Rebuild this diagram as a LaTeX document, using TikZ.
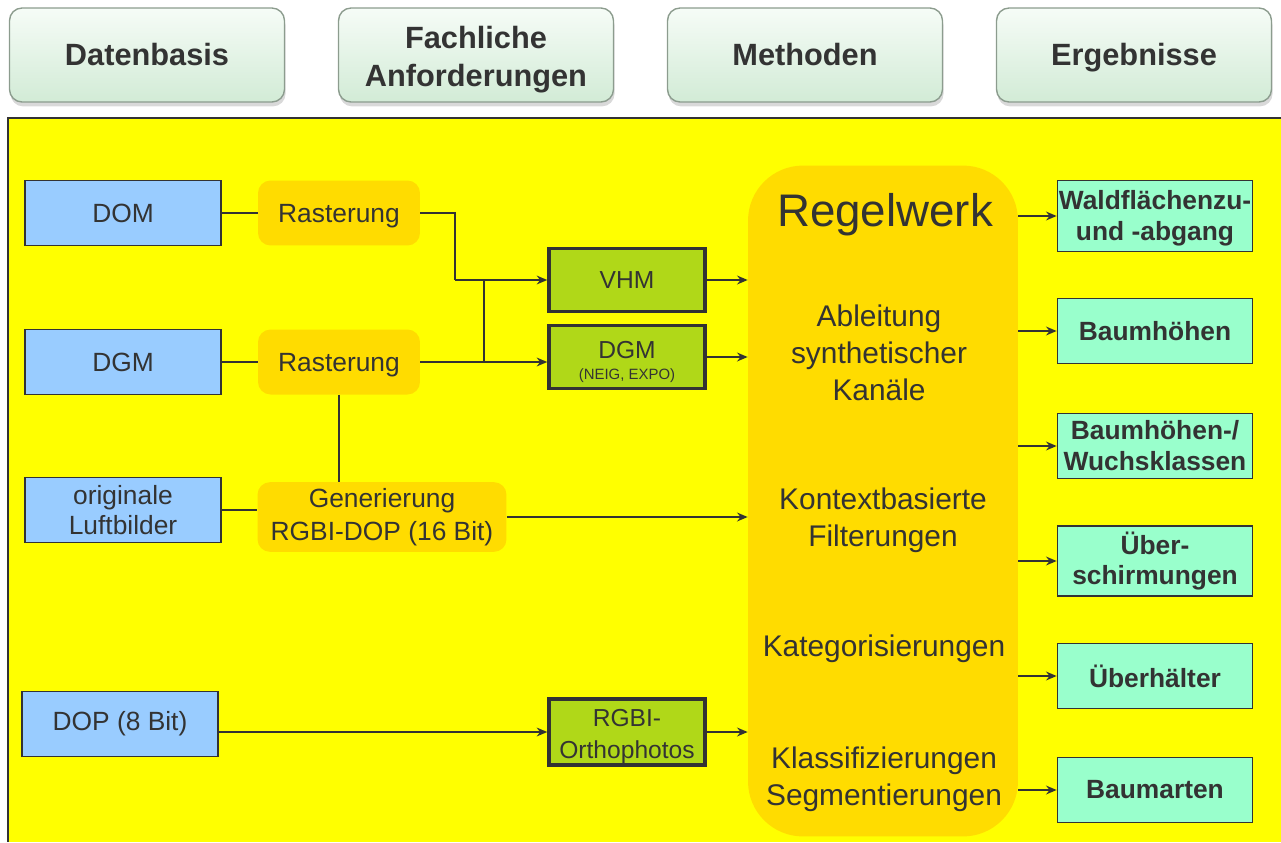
\documentclass[tikz,border=0pt]{standalone}
\usepackage{fontspec}
\setmainfont{Liberation Sans}
\usepackage{tikz}
\usepackage{xcolor}
\usetikzlibrary{
    arrows.meta,
    shadows,
    calc,
    positioning
}
\definecolor{hellgelb}{HTML}{FFFF00}
\definecolor{gold}{HTML}{FFDC00}
\definecolor{hellblau}{HTML}{99CCFF}
\definecolor{laubgruen}{HTML}{B0D818}
\definecolor{mint}{HTML}{99FFCC}
\definecolor{dunkel}{HTML}{333333}
\definecolor{kopfoben}{HTML}{F6FCF7}
\definecolor{kopfunten}{HTML}{D2EBD6}
\definecolor{kopfrand}{HTML}{8C9C8E}

\begin{document}
\begin{tikzpicture}[
        x=0.02cm, y=-0.02cm,
        every node/.style={text=dunkel, align=center},
        kopf/.style={draw=kopfrand, line width=0.8pt, rounded corners=0.25cm,
            top color=kopfoben, bottom color=kopfunten,
            minimum width=5.5cm, minimum height=1.88cm,
            font=\bfseries\fontsize{17.5}{21.5}\selectfont,
            drop shadow={shadow xshift=0.6pt, shadow yshift=-2.5pt, opacity=0.3}},
        einzeilig/.style={text height=12.5pt, text depth=0pt},
        quelle/.style={draw=dunkel, line width=1pt, fill=hellblau,
            minimum width=3.92cm, minimum height=1.3cm,
            font=\fontsize{15}{17}\selectfont},
        prozess/.style={fill=gold, rounded corners=0.25cm,
            minimum height=1.3cm, font=\fontsize{15}{19}\selectfont},
        kanal/.style={draw=dunkel, line width=2pt, fill=laubgruen,
            minimum width=3.12cm, minimum height=1.26cm, inner sep=1pt,
            font=\fontsize{14}{18}\selectfont},
        ergebnis/.style={draw=dunkel, line width=1pt, fill=mint,
            minimum width=3.9cm, minimum height=1.3cm, inner xsep=0pt,
            font=\bfseries\fontsize{15}{17.6}\selectfont},
        regeltext/.style={font=\fontsize{17}{21}\selectfont},
        linie/.style={draw=dunkel, line width=1pt},
        pfeil/.style={linie, -{Stealth[length=6pt, width=5pt]}}
    ]
    \useasboundingbox (0,0) rectangle (1281,842);

    \node[kopf, einzeilig] (datenbasis) at (147,55) {Datenbasis};
    \node[kopf] (fachlich) at (476,55) {\rule{0pt}{17.5pt}Fachliche\\Anforderungen};
    \node[kopf, einzeilig] (methoden) at (805,55) {Methoden};
    \node[kopf, einzeilig] (ergebnisse) at (1134,55) {Ergebnisse};

    \fill[hellgelb] (8,118) rectangle (1281,842);
    \draw[dunkel, line width=1pt] (8,842) -- (8,118) -- (1281,118);

    \node[quelle] (dom) at (123,213) {DOM};
    \node[quelle] (dgm) at (123,362) {DGM};
    \node[quelle] (luftbild) at (123,510) {originale\\Luftbilder};
    \node[quelle] (dop) at (120,724) {DOP (8 Bit)};

    \node[prozess, minimum width=3.24cm, text height=10.7pt, text depth=0pt] (raster1) at (339,213) {Rasterung};
    \node[prozess, minimum width=3.24cm, text height=10.7pt, text depth=0pt] (raster2) at (339,362) {Rasterung};
    \node[prozess, minimum width=4.98cm] (generierung) at (382,517) {Generierung\\RGBI-DOP (16 Bit)};

    \node[kanal] (vhm) at (627,280) {VHM};
    \node[kanal] (dgmkanal) at (627,357) {\rule{0pt}{15pt}DGM\\[-6pt]{\fontsize{8.5}{10}\selectfont(NEIG, EXPO)}};
    \node[kanal] (rgbi) at (627,732) {\rule{0pt}{14.6pt}RGBI-\\Orthophotos};

    \node[fill=gold, rounded corners=1.1cm, minimum width=5.4cm, minimum height=13.42cm] (regel) at (883,501) {};
    \node[font=\fontsize{26}{30}\selectfont] (regeltitel) at (885,215) {Regelwerk};
    \node[regeltext] (ableitung) at (879,353) {Ableitung\\synthetischer\\Kanäle};
    \node[regeltext] (kontext) at (883,520) {Kontextbasierte\\Filterungen};
    \node[regeltext] (kategorie) at (884,649) {Kategorisierungen};
    \node[regeltext] (klasse) at (884,779) {Klassifizierungen\\Segmentierungen};

    \node[ergebnis] (wald) at (1155,216) {\rule{0pt}{13pt}Waldflächenzu-\\und -abgang};
    \node[ergebnis] (hoehe) at (1155,331) {Baumhöhen};
    \node[ergebnis] (wuchs) at (1155,446) {Baumhöhen-/\\Wuchsklassen};
    \node[ergebnis] (schirm) at (1155,561) {Über-\\schirmungen};
    \node[ergebnis] (halter) at (1155,676) {Überhälter};
    \node[ergebnis] (arten) at (1155,790) {Baumarten};

    \coordinate (knick) at (455,280);
    \coordinate (stoss) at (484,280);

    \draw[linie] (dom.east) -- (raster1.west);
    \draw[linie] (dgm.east) -- (raster2.west);
    \draw[linie] (luftbild.east) -- (luftbild.east -| generierung.west);
    \draw[linie] (raster1.east) -| (knick);
    \draw[pfeil] (knick) -- (vhm.west);
    \draw[pfeil] (raster2.east) -- (dgmkanal.west |- raster2.east);
    \draw[linie] (stoss) -- (stoss |- raster2.east);
    \draw[linie] (raster2.south) -- (raster2.south |- generierung.north);
    \draw[pfeil] (generierung.east) -- (generierung.east -| regel.west);
    \draw[pfeil] (dop.east |- rgbi.west) -- (rgbi.west);
    \draw[pfeil] (vhm.east) -- (vhm.east -| regel.west);
    \draw[pfeil] (dgmkanal.east) -- (dgmkanal.east -| regel.west);
    \draw[pfeil] (rgbi.east) -- (rgbi.east -| regel.west);
    \foreach \e in {wald, hoehe, wuchs, schirm, halter, arten}
        \draw[pfeil] (regel.east |- \e.west) -- (\e.west);
\end{tikzpicture}
\end{document}
